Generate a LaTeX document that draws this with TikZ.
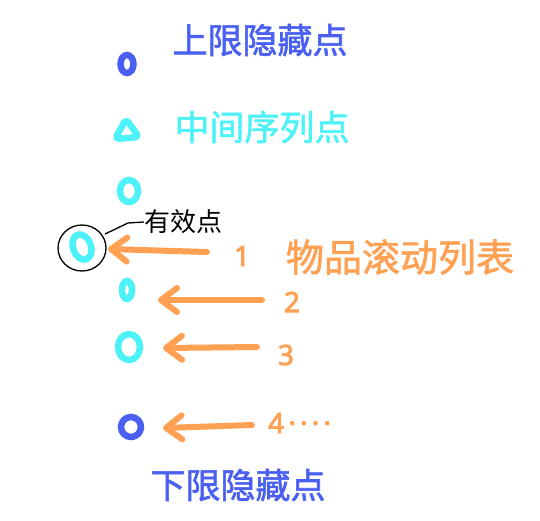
\documentclass[tikz,border=0pt]{standalone}
\usepackage{fontspec}
\newfontfamily\cjk{Noto Sans CJK SC}
\newfontfamily\cjkm[FakeBold=1.6]{Noto Sans CJK SC}
\newfontfamily\lat[FakeBold=3]{Noto Sans}
\usetikzlibrary{arrows.meta}
\definecolor{hblue}{HTML}{4A60F2}
\definecolor{hcyan}{HTML}{4CF2F8}
\definecolor{horange}{HTML}{FFA052}
\tikzset{
  loop/.style={line width=6.5pt},
  arr/.style={horange, line width=6pt, line cap=round,
    -{Straight Barb[length=16pt,width=24pt,line cap=round,line join=round]}},
  big/.style={font=\cjkm\fontsize{35}{40}\selectfont, inner sep=0pt},
  lab/.style={font=\cjk\fontsize{26}{30}\selectfont, inner sep=0pt},
  num/.style={horange, font=\lat\fontsize{28}{30}\selectfont, inner sep=0pt},
}
\begin{document}
\begin{tikzpicture}[x=1pt,y=-1pt]
\useasboundingbox (0,0) rectangle (540,520);
% texts
\node[big, hblue] (top) at (260,40) {上限隐藏点};
\node[big, hcyan] (mid) at (262,127) {中间序列点};
\node[big, hblue] (bot) at (238,485) {下限隐藏点};
\node[big, horange, font=\cjkm\fontsize{38}{42}\selectfont] (list) at (400,257) {物品滚动列表};
\node[lab, black] (valid) at (183,222) {有效点};
% loops
\draw[loop, hblue] (127,64) ellipse [x radius=6.5, y radius=9];
\draw[loop, hcyan, line join=round, rounded corners=4pt] (115,139) -- (126,119) -- (139,137) -- cycle;
\draw[loop, hcyan] (129,191) ellipse [x radius=9, y radius=11];
\draw[loop, hcyan, rotate around={20:(82,247)}] (82,247) ellipse [x radius=9, y radius=13];
\draw[loop, hcyan] (127,290) ellipse [x radius=5, y radius=9];
\draw[loop, hcyan] (129,347) ellipse [x radius=11, y radius=13];
\draw[loop, hblue] (131,427) ellipse [x radius=10, y radius=10];
% ring around valid point
\draw[black, line width=1.3pt] (82,248) ellipse [x radius=24, y radius=23];
\node[inner sep=0pt] (ring) at (82,248) {};
\coordinate (lead0) at (105,234);
\coordinate (lead1) at (128,223);
\draw[black, line width=1.3pt] (lead0) -- (lead1) -- (valid.west);
% numbers
\node[num] (n1) at (242,256) {1};
\node[num] (n2) at (292,302) {2};
\node[num] (n3) at (286,355) {3};
\node[num, anchor=west] (n4) at (268,423) {\addfontfeatures{LetterSpace=15}4····};
% arrows
\coordinate (a1s) at (207,252); \coordinate (a1e) at (108,249);
\coordinate (a2s) at (262,300); \coordinate (a2e) at (158,300);
\coordinate (a3s) at (257,347); \coordinate (a3e) at (163,348);
\coordinate (a4s) at (252,425); \coordinate (a4e) at (163,428);
\draw[arr] (a1s) -- (a1e);
\draw[arr] (a2s) -- (a2e);
\draw[arr] (a3s) -- (a3e);
\draw[arr] (a4s) -- (a4e);
\end{tikzpicture}
\end{document}
